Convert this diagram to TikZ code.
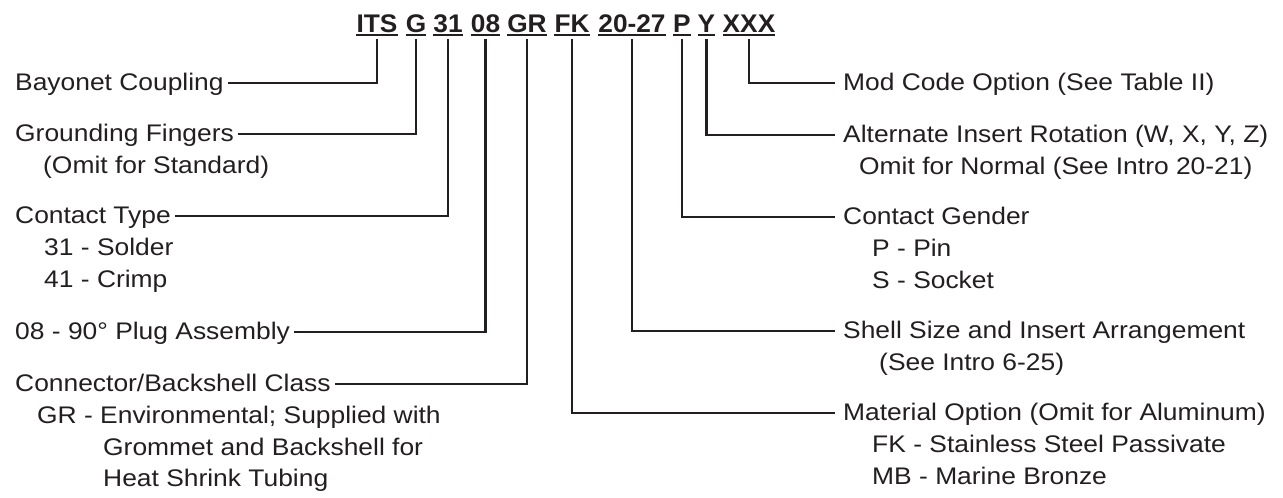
\documentclass[tikz,border=0pt]{standalone}
\usepackage{fontspec}
\setmainfont{Liberation Sans}[FakeStretch=1.1]
\newfontfamily\hdrfont{Liberation Sans}[FakeStretch=1.03]
\usetikzlibrary{calc}
\definecolor{ink}{RGB}{35,31,32}
\begin{document}
\begin{tikzpicture}[x=1pt,y=-1pt,
  lbl/.style={inner sep=0pt, anchor=base west, font=\fontsize{24}{28}\selectfont, text=ink},
  code/.style={inner sep=0pt, anchor=base, font=\hdrfont\bfseries\fontsize{25.5}{28}\selectfont, text=ink},
  uline/.style={line width=2.3pt, draw=ink},
  wire/.style={line width=2.4pt, draw=ink}]
\useasboundingbox[fill=white] (0,0) rectangle (1283,498);

% part number codes
\node[code] (cITS) at (377,32) {ITS};
\node[code] (cG)   at (416,32) {G};
\node[code] (c31)  at (448,32) {31};
\node[code] (c08)  at (485.5,32) {08};
\node[code] (cGR)  at (527,32) {GR};
\node[code] (cFK)  at (572,32) {FK};
\node[code] (c2027) at (632,32) {20-27};
\node[code] (cP)   at (682,32) {P};
\node[code] (cY)   at (706.5,32) {Y};
\node[code] (cXXX) at (749,32) {XXX};
\foreach \n in {cITS,cG,c31,c08,cGR,cFK,c2027,cP,cY,cXXX}
  \draw[uline] ([yshift=-2.8pt]\n.base west) -- ([yshift=-2.8pt]\n.base east);

% left labels
\node[lbl] (bay)  at (15,90)  {Bayonet Coupling};
\node[lbl] (grd)  at (15,141) {Grounding Fingers};
\node[lbl] (grd2) at (43,173) {(Omit for Standard)};
\node[lbl] (ct)   at (15,223) {Contact Type};
\node[lbl] (ct2)  at (44,255) {31 - Solder};
\node[lbl] (ct3)  at (44,287) {41 - Crimp};
\node[lbl] (pa)   at (15,339) {08 - 90° Plug Assembly};
\node[lbl] (cb)   at (15,391) {Connector/Backshell Class};
\node[lbl] (cb2)  at (37,423) {GR - Environmental; Supplied with};
\node[lbl] (cb3)  at (103,455) {Grommet and Backshell for};
\node[lbl] (cb4)  at (103,486) {Heat Shrink Tubing};

% right labels
\node[lbl] (mod)  at (843,90)  {Mod Code Option (See Table II)};
\node[lbl] (alt)  at (843,142) {Alternate Insert Rotation (W, X, Y, Z)};
\node[lbl] (alt2) at (859,174) {Omit for Normal (See Intro 20-21)};
\node[lbl] (cg)   at (843,224) {Contact Gender};
\node[lbl] (cg2)  at (872,256) {P - Pin};
\node[lbl] (cg3)  at (872,288) {S - Socket};
\node[lbl] (ss)   at (843,338) {Shell Size and Insert Arrangement};
\node[lbl] (ss2)  at (879,370) {(See Intro 6-25)};
\node[lbl] (mo)   at (843,420) {Material Option (Omit for Aluminum)};
\node[lbl] (mo2)  at (872,452) {FK - Stainless Steel Passivate};
\node[lbl] (mo3)  at (872,484) {MB - Marine Bronze};

% connectors
\draw[wire] (cITS |- 0,39) |- ([shift={(4,-7)}]bay.base east);
\draw[wire] (cG   |- 0,39) |- ([shift={(4,-7)}]grd.base east);
\draw[wire] (c31  |- 0,39) |- ([shift={(4,-7)}]ct.base east);
\draw[wire] (c08  |- 0,39) |- ([shift={(4,-7)}]pa.base east);
\draw[wire] (cGR  |- 0,39) |- ([shift={(4,-7)}]cb.base east);
\draw[wire] (cXXX |- 0,39) |- ([shift={(-8,-7)}]mod.base west);
\draw[wire] (cY   |- 0,39) |- ([shift={(-8,-7)}]alt.base west);
\draw[wire] (cP   |- 0,39) |- ([shift={(-8,-7)}]cg.base west);
\draw[wire] (c2027 |- 0,39) |- ([shift={(-8,-7)}]ss.base west);
\draw[wire] (cFK  |- 0,39) |- ([shift={(-8,-7)}]mo.base west);
\end{tikzpicture}
\end{document}
